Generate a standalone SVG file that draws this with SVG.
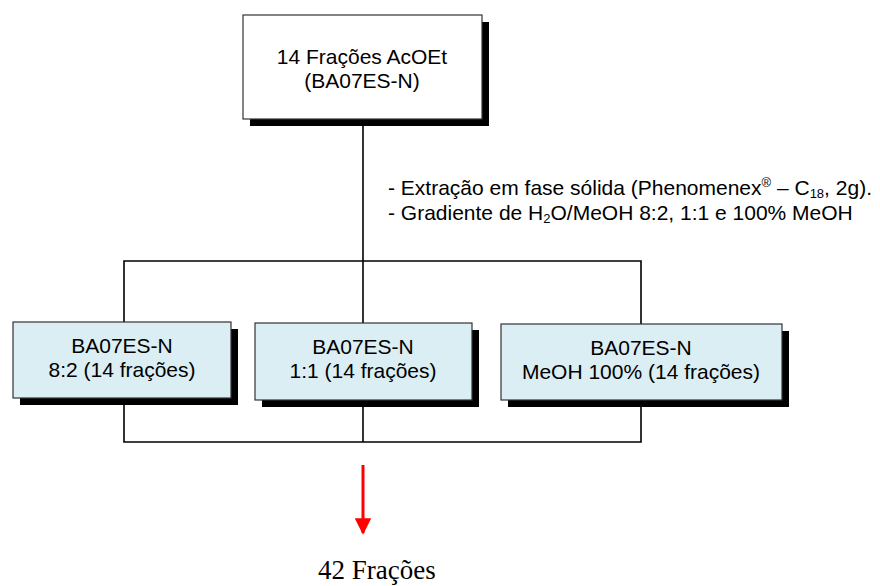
<svg xmlns="http://www.w3.org/2000/svg" width="880" height="586" viewBox="0 0 880 586">
  <style>
    .box { stroke: #333333; stroke-width: 1.2; }
    .top { fill: #ffffff; }
    .sub { fill: #dbeef3; }
    .shadow { fill: #000000; }
    .label { font-family: "Liberation Sans", Arial, sans-serif; font-size: 21px; fill: #000000; text-anchor: middle; }
    .note { font-family: "Liberation Sans", Arial, sans-serif; font-size: 21px; fill: #000000; }
    .small { font-size: 13px; }
    .wire { fill: none; stroke: #000000; stroke-width: 1.6; }
    .result { font-family: "Liberation Serif", "Times New Roman", serif; font-size: 27px; fill: #000000; }
  </style>
  <defs>
    <marker id="redHead" viewBox="0 0 10 10" refX="9" refY="5" markerWidth="5.5" markerHeight="5.5" markerUnits="strokeWidth" orient="auto">
      <path d="M0,0 L10,5 L0,10 Z" fill="#ff0000"/>
    </marker>
  </defs>

  <!-- connectors -->
  <g id="connectors">
    <path class="wire" d="M363,119 V261"/>
    <path class="wire" d="M124,322 V261 H641 V324"/>
    <path class="wire" d="M363,261 V323"/>
    <path class="wire" d="M124,404 V442 H641 V406"/>
    <path class="wire" d="M363,406 V442"/>
    <path d="M363,465 V533" stroke="#ff0000" stroke-width="3" fill="none" marker-end="url(#redHead)"/>
  </g>

  <!-- source node -->
  <g id="node-source">
    <rect class="shadow" x="250" y="22" width="239" height="104"/>
    <rect class="box top" x="243" y="15" width="239" height="104"/>
    <text class="label" x="362" y="64">14 Frações AcOEt</text>
    <text class="label" x="362" y="88">(BA07ES-N)</text>
  </g>

  <!-- procedure note -->
  <g id="procedure">
    <text class="note" x="388" y="195">- Extração em fase sólida (Phenomenex<tspan class="small" dy="-8">®</tspan><tspan dy="8"> – C</tspan><tspan class="small" dy="3">18</tspan><tspan dy="-3">, 2g).</tspan></text>
    <text class="note" x="388" y="220">- Gradiente de H<tspan class="small" dy="3">2</tspan><tspan dy="-3">O/MeOH 8:2, 1:1 e 100% MeOH</tspan></text>
  </g>

  <!-- fraction nodes -->
  <g id="node-82">
    <rect class="shadow" x="20" y="329" width="218" height="76"/>
    <rect class="box sub" x="13" y="322" width="218" height="76"/>
    <text class="label" x="122" y="353">BA07ES-N</text>
    <text class="label" x="122" y="377">8:2 (14 frações)</text>
  </g>
  <g id="node-11">
    <rect class="shadow" x="262" y="330" width="217" height="77"/>
    <rect class="box sub" x="255" y="323" width="217" height="77"/>
    <text class="label" x="363" y="354">BA07ES-N</text>
    <text class="label" x="363" y="378">1:1 (14 frações)</text>
  </g>
  <g id="node-meoh">
    <rect class="shadow" x="508" y="331" width="281" height="76"/>
    <rect class="box sub" x="501" y="324" width="281" height="76"/>
    <text class="label" x="641" y="355">BA07ES-N</text>
    <text class="label" x="641" y="379">MeOH 100% (14 frações)</text>
  </g>

  <!-- outcome -->
  <g id="node-result">
    <text class="result" x="318" y="579">42 Frações</text>
  </g>
</svg>
